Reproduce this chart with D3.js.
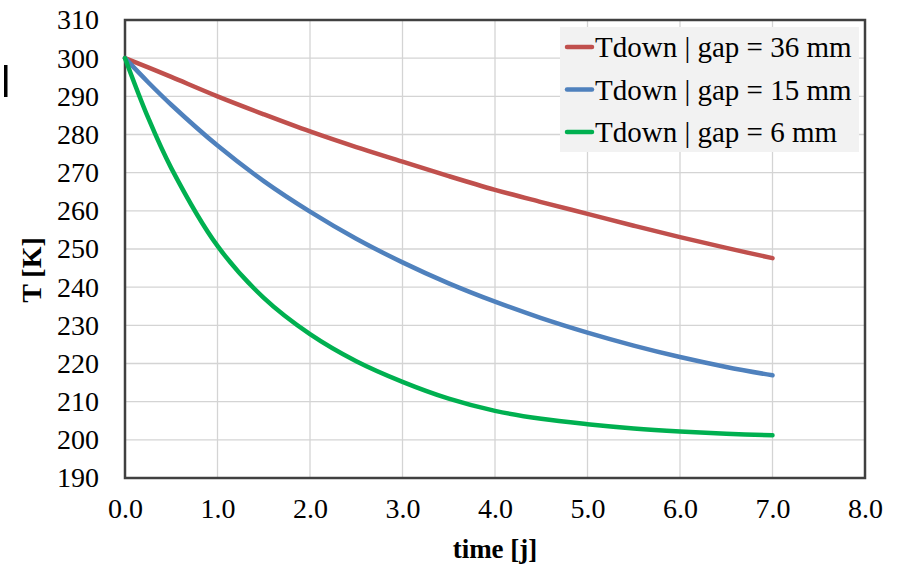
<!DOCTYPE html>
<html>
<head>
<meta charset="utf-8">
<script src="https://cdn.jsdelivr.net/npm/d3@7"></script>
<style>
  body { margin: 0; background: #fff; }
  svg { display: block; font-family: "Liberation Serif", "Times New Roman", serif; }
</style>
</head>
<body>
<svg class="chart"></svg>
<script>
// time [j]
const times = [0, 0.25, 0.5, 1.0, 1.5, 2.0, 2.5, 3.0, 3.5, 4.0, 4.5, 5.0, 5.5, 6.0, 6.5, 7.0];
// Tdown for each gap
const gap36 = [300, 297.6, 295.1, 290.0, 285.3, 280.8, 276.7, 272.9, 269.1, 265.5, 262.3, 259.2, 256.1, 253.1, 250.3, 247.6];
const gap15 = [300, 293.7, 287.8, 277.1, 267.8, 259.8, 252.7, 246.5, 241.0, 236.2, 231.9, 228.1, 224.7, 221.7, 219.1, 216.9];
const gap6  = [300, 284.4, 271.2, 250.8, 237.2, 227.7, 220.6, 215.2, 210.8, 207.6, 205.5, 204.1, 203.0, 202.2, 201.6, 201.2];

const seriesNames = ['Tdown | gap = 36 mm', 'Tdown | gap = 15 mm', 'Tdown | gap = 6 mm'];
const seriesColors = ['#c0504d', '#4f81bd', '#00b050'];
const seriesValues = [gap36, gap15, gap6];

const xTicks = [0, 1, 2, 3, 4, 5, 6, 7, 8];
const yTicks = [190, 200, 210, 220, 230, 240, 250, 260, 270, 280, 290, 300, 310];

const width = 897, height = 565;
const marginTop = 20, marginRight = 32, marginBottom = 87, marginLeft = 125;

const svg = d3.select('.chart')
    .attr('width', width)
    .attr('height', height)
    .attr('viewBox', [0, 0, width, height]);

const xScale = d3.scaleLinear([0, 8], [marginLeft, width - marginRight]);
const yScale = d3.scaleLinear([190, 310], [height - marginBottom, marginTop]);

// grid
svg.append('g')
    .attr('stroke', '#d4d4d4')
    .attr('stroke-width', 1.3)
    .call(g => g.selectAll('.gx').data(xTicks).join('line')
        .attr('x1', d => xScale(d)).attr('x2', d => xScale(d))
        .attr('y1', marginTop).attr('y2', height - marginBottom))
    .call(g => g.selectAll('.gy').data(yTicks).join('line')
        .attr('x1', marginLeft).attr('x2', width - marginRight)
        .attr('y1', d => yScale(d)).attr('y2', d => yScale(d)));

// axes
const xAxis = d3.axisBottom(xScale).tickValues(xTicks).tickSize(0).tickPadding(20).tickFormat(d3.format('.1f'));
const yAxis = d3.axisLeft(yScale).tickValues(yTicks).tickSize(0).tickPadding(26).tickFormat(d3.format('d'));

svg.append('g')
    .attr('transform', `translate(0,${height - marginBottom})`)
    .call(xAxis)
    .call(g => g.select('.domain').remove())
    .call(g => g.selectAll('text')
        .attr('font-family', '"Liberation Serif", serif')
        .attr('font-size', 28)
        .attr('fill', '#000'));

svg.append('g')
    .attr('transform', `translate(${marginLeft},0)`)
    .call(yAxis)
    .call(g => g.select('.domain').remove())
    .call(g => g.selectAll('text')
        .attr('font-family', '"Liberation Serif", serif')
        .attr('font-size', 28)
        .attr('fill', '#000'));

// plot frame
svg.append('rect')
    .attr('x', marginLeft)
    .attr('y', marginTop)
    .attr('width', width - marginRight - marginLeft)
    .attr('height', height - marginBottom - marginTop)
    .attr('fill', 'none')
    .attr('stroke', '#404040')
    .attr('stroke-width', 2.5);

// lines
const line = d3.line()
    .curve(d3.curveCatmullRom.alpha(0.5))
    .x((d, i) => xScale(times[i]))
    .y(d => yScale(d));

svg.append('g')
    .attr('fill', 'none')
    .attr('stroke-width', 4.5)
    .attr('stroke-linecap', 'round')
    .attr('stroke-linejoin', 'round')
  .selectAll('path')
  .data(seriesValues)
  .join('path')
    .attr('stroke', (d, i) => seriesColors[i])
    .attr('d', d => line(d));

// legend
const legend = svg.append('g');
legend.append('rect')
    .attr('x', 560).attr('y', 27)
    .attr('width', 299).attr('height', 125)
    .attr('fill', '#f2f2f2');

const legendItems = legend.selectAll('g.item')
    .data(seriesNames)
    .join('g')
    .attr('transform', (d, i) => `translate(0,${47 + i * 42.5})`);

legendItems.append('line')
    .attr('x1', 567).attr('x2', 592)
    .attr('stroke', (d, i) => seriesColors[i])
    .attr('stroke-width', 4.5)
    .attr('stroke-linecap', 'round');

legendItems.append('text')
    .attr('x', 595)
    .attr('dy', '0.35em')
    .attr('font-size', 29)
    .attr('fill', '#000')
    .text(d => d);

// axis titles
svg.append('text')
    .attr('x', (marginLeft + width - marginRight) / 2)
    .attr('y', 558)
    .attr('text-anchor', 'middle')
    .attr('font-weight', 'bold')
    .attr('font-size', 27)
    .text('time [j]');

svg.append('text')
    .attr('transform', 'translate(41,270) rotate(-90)')
    .attr('text-anchor', 'middle')
    .attr('font-weight', 'bold')
    .attr('font-size', 28)
    .text('T [K]');

// stray mark at the left edge of the original
svg.append('rect')
    .attr('x', 4).attr('y', 65)
    .attr('width', 3.5).attr('height', 32)
    .attr('fill', '#000');
</script>
</body>
</html>
